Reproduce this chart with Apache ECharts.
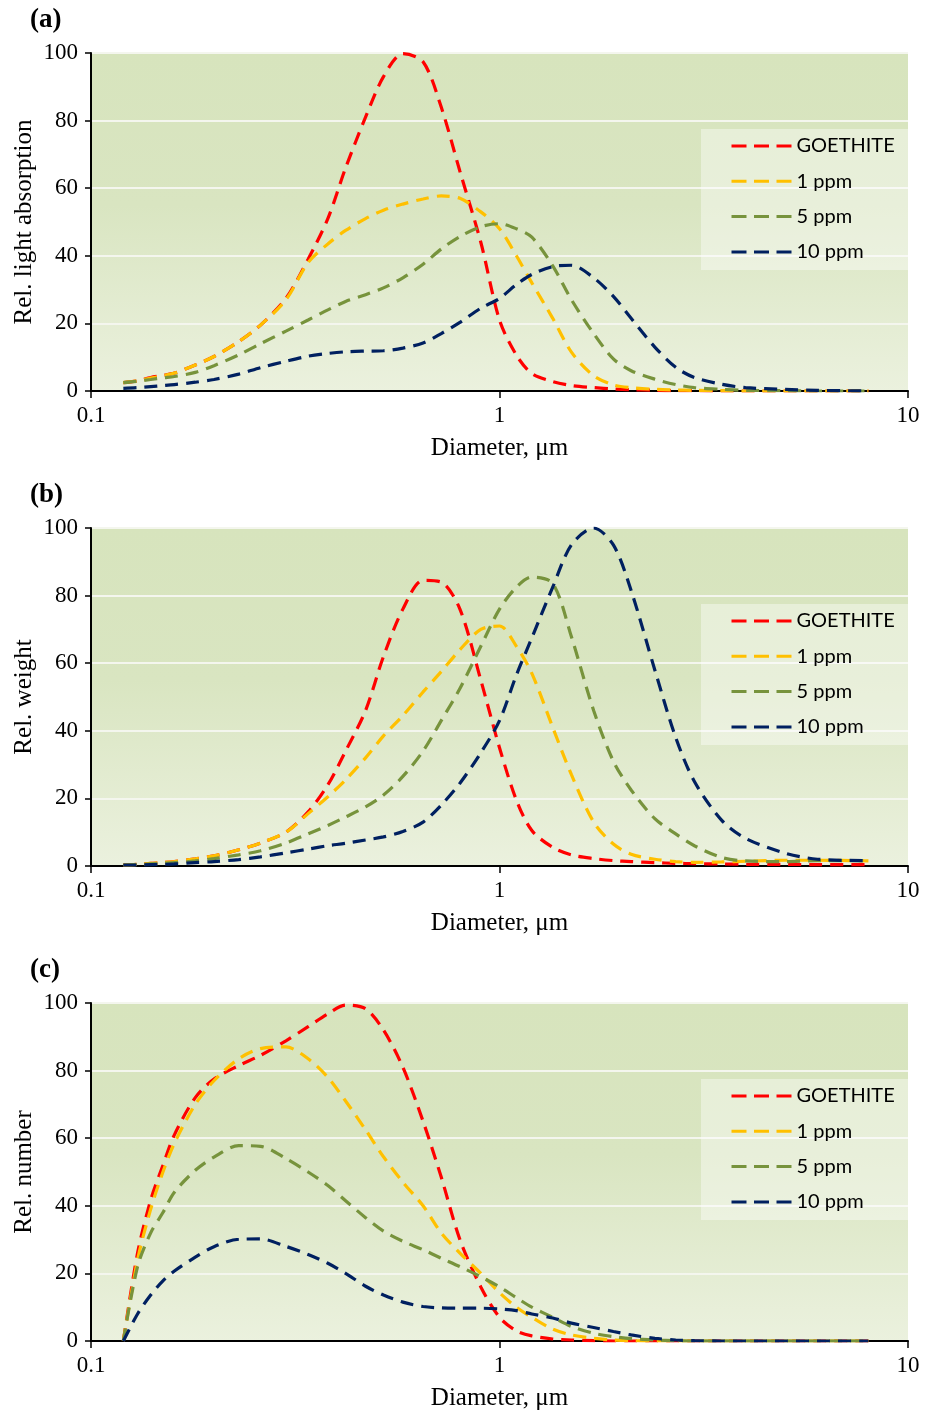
<!DOCTYPE html>
<html>
<head>
<meta charset="utf-8">
<script src="https://cdn.jsdelivr.net/npm/echarts@6/dist/echarts.min.js"></script>
<style>
  body { margin: 0; background: #fff; }
  #main { width: 933px; height: 1416px; }
</style>
</head>
<body>
<div id="main"></div>
<script>
// 粒径 (µm), shared by all three panels
var diameters = [0.12, 0.13, 0.14, 0.15, 0.16, 0.18, 0.2, 0.23, 0.26, 0.3, 0.34, 0.38, 0.42, 0.47, 0.52, 0.58, 0.65, 0.72, 0.8, 0.9,
                 1.0, 1.1, 1.2, 1.35, 1.5, 1.7, 1.9, 2.1, 2.4, 2.7, 3.0, 3.5, 4.0, 5.0, 6.0, 8.0];
var seriesNames = ['GOETHITE', '1 ppm', '5 ppm', '10 ppm'];
var panelLabels = ['(a)', '(b)', '(c)'];
var yTitles = ['Rel. light absorption', 'Rel. weight', 'Rel. number'];
var xTitle = 'Diameter, μm';

// (a) light absorption
var absGoethite = [2.5, 3, 4, 4.6, 5.3, 7.7, 10.2, 14.6, 19.5, 27.4, 39, 51, 66, 81, 93, 99.8, 97.4, 84, 65, 44,
                   21, 10.6, 5.2, 2.8, 1.6, 1.0, 0.6, 0.4, 0.2, 0.1, 0.1, 0, 0, 0, 0, 0];
var abs1ppm = [2.5, 3, 3.8, 4.5, 5.3, 7.7, 10.2, 14.6, 19.5, 27, 38, 43.5, 47.5, 51, 53.5, 55.3, 56.8, 57.7, 57, 53,
               48, 40, 32, 21.5, 11.5, 4.5, 1.8, 1.0, 0.5, 0.3, 0.2, 0.1, 0, 0, 0, 0];
var abs5ppm = [2.5, 2.9, 3.4, 3.9, 4.3, 5.5, 7.5, 10.7, 14, 17.7, 21, 24, 26.5, 28.5, 30.5, 33.5, 37.5, 42, 45.7, 48.6,
               49.5, 48, 45.5, 37, 27, 17, 9.5, 6, 3.5, 1.9, 1.0, 0.5, 0.2, 0.1, 0, 0];
var abs10ppm = [0.8, 1.0, 1.3, 1.6, 1.9, 2.6, 3.4, 5, 6.9, 8.8, 10.3, 11.1, 11.6, 11.8, 11.9, 12.7, 14.2, 17, 20.3, 24.5,
                27.4, 31.5, 34.5, 36.8, 37.2, 33.5, 28, 21.5, 13, 7, 4, 2.0, 1.0, 0.5, 0.2, 0];

// (b) weight
var wtGoethite = [0.3, 0.5, 0.8, 1.0, 1.3, 2.1, 3, 4.8, 6.8, 10, 16, 24, 34, 46, 62, 76, 84.5, 84, 76, 55,
                  35, 19.5, 10.5, 5.5, 3.3, 2.2, 1.6, 1.3, 1.0, 0.8, 0.7, 0.6, 0.5, 0.5, 0.4, 0.4];
var wt1ppm = [0.3, 0.5, 0.8, 1.0, 1.3, 2.1, 3, 4.8, 6.8, 10, 15.5, 20.5, 25.5, 32, 38.5, 44.5, 51.5, 57.5, 64, 70,
              71, 65, 57, 41, 27, 13, 6.5, 3.5, 2, 1.3, 1.1, 1.2, 1.4, 1.7, 1.7, 1.5];
var wt5ppm = [0.3, 0.4, 0.6, 0.8, 1.0, 1.5, 2.2, 3.3, 4.5, 6.8, 9.5, 12, 14.5, 17.5, 21, 26.5, 34, 43, 52.5, 65,
              76, 82.5, 85.5, 83.6, 67.8, 46, 31, 22.5, 14, 9.5, 6, 2.5, 1.5, 1.3, 1.6, 1.6];
var wt10ppm = [0.3, 0.3, 0.4, 0.5, 0.6, 1.0, 1.3, 1.9, 2.7, 3.9, 5.0, 6.0, 6.7, 7.7, 8.6, 10.2, 13, 18, 24.5, 33.5,
               43, 56.5, 67.5, 82.5, 95, 100, 95, 81.5, 58, 38, 25, 13.5, 8.2, 3.8, 2.0, 1.6];

// (c) number
var numGoethite = [0, 26, 41.7, 52, 61, 72, 77.5, 81.5, 84.5, 88.8, 93, 96.8, 99.4, 98.3, 92, 81, 65, 48.5, 30, 16,
                   7, 3, 1.5, 0.6, 0.3, 0.1, 0, 0, 0, 0, 0, 0, 0, 0, 0, 0];
var num1ppm = [0, 24, 39, 50, 58.5, 70, 77, 83.5, 86.5, 87, 83.5, 78, 71, 62.5, 54.5, 47, 40, 32, 26, 20,
               14.3, 10, 7, 3.5, 1.8, 0.8, 0.3, 0.1, 0, 0, 0, 0, 0, 0, 0, 0];
var num5ppm = [0, 22, 32, 38, 44, 50.5, 54.4, 57.8, 57.6, 54, 50, 46, 41.5, 36.5, 32.5, 29.5, 27, 24.5, 22, 19,
               16, 12.8, 10, 7, 4.3, 2.3, 1.3, 0.7, 0.3, 0.1, 0, 0, 0, 0, 0, 0];
var num10ppm = [0, 8, 13.6, 17.8, 20.7, 24.8, 27.9, 30.1, 30.2, 28, 25.6, 23, 20, 16.2, 13.6, 11.5, 10.2, 9.8, 9.7, 9.7,
                9.5, 9, 8, 6.8, 5.3, 4, 2.8, 1.8, 0.8, 0.3, 0.1, 0, 0, 0, 0, 0];

var panels = [
  [absGoethite, abs1ppm, abs5ppm, abs10ppm],
  [wtGoethite, wt1ppm, wt5ppm, wt10ppm],
  [numGoethite, num1ppm, num5ppm, num10ppm]
];
var colors = ['#ff0000', '#ffc000', '#77933c', '#002060'];
var gridTops = [53, 528, 1003];

var myChart = echarts.init(document.getElementById('main'));

var grids = [], xAxes = [], yAxes = [], titles = [], legends = [], series = [];
for (var p = 0; p < 3; p++) {
  grids.push({
    left: 91, top: gridTops[p], width: 817, height: 338,
    show: true, borderWidth: 0,
    backgroundColor: {
      type: 'linear', x: 0, y: 0, x2: 0, y2: 1,
      colorStops: [
        { offset: 0, color: '#d7e4bd' },
        { offset: 0.45, color: '#d9e5c1' },
        { offset: 1, color: '#ebf1de' }
      ]
    }
  });
  xAxes.push({
    type: 'log', logBase: 10, min: 0.1, max: 10, gridIndex: p,
    name: xTitle, nameLocation: 'middle', nameGap: 45, nameMoveOverlap: false,
    nameTextStyle: { fontFamily: 'Liberation Serif', fontSize: 25, color: '#000' },
    axisLine: { lineStyle: { color: '#000', width: 2 } },
    axisTick: { show: true, length: 7, lineStyle: { color: '#000', width: 1.5 } },
    minorTick: { show: false },
    splitLine: { show: false },
    axisLabel: { fontFamily: 'Liberation Serif', fontSize: 23, color: '#000', margin: 13 }
  });
  yAxes.push({
    type: 'value', min: 0, max: 100, interval: 20, gridIndex: p,
    name: yTitles[p], nameLocation: 'middle', nameGap: 54, nameRotate: 90, nameMoveOverlap: false,
    nameTextStyle: { fontFamily: 'Liberation Serif', fontSize: 25, color: '#000' },
    axisLine: { show: true, lineStyle: { color: '#000', width: 2 } },
    axisTick: { show: true, length: 6, lineStyle: { color: '#000', width: 1.5 } },
    splitLine: { show: true, lineStyle: { color: '#f4f6ee', width: 2 } },
    axisLabel: { fontFamily: 'Liberation Serif', fontSize: 23, color: '#000', margin: 13 }
  });
  titles.push({
    text: panelLabels[p], left: 30, top: gridTops[p] - 46, padding: 0,
    textStyle: { fontFamily: 'Liberation Serif', fontWeight: 'bold', fontSize: 27, color: '#000' }
  });
  legends.push({
    data: seriesNames, orient: 'vertical',
    left: 701, top: gridTops[p] + 76,
    padding: [7, 18, 8, 29],
    itemWidth: 60, itemHeight: 14, itemGap: 15.3,
    backgroundColor: 'rgba(255,255,255,0.4)',
    selectedMode: false,
    itemStyle: { opacity: 0 },
    lineStyle: { width: 3, type: [15, 7.5] },
    textStyle: { fontFamily: 'Lato', fontSize: 20, color: '#000' }
  });
  for (var s = 0; s < 4; s++) {
    var vals = panels[p][s];
    series.push({
      name: seriesNames[s], type: 'line',
      xAxisIndex: p, yAxisIndex: p,
      showSymbol: false, symbol: 'none',
      smooth: 0.3,
      color: colors[s],
      lineStyle: { color: colors[s], width: 3.2, type: [13, 8] },
      data: diameters.map(function (d, i) { return [d, vals[i]]; })
    });
  }
}

myChart.setOption({
  animation: false,
  title: titles,
  legend: legends,
  grid: grids,
  xAxis: xAxes,
  yAxis: yAxes,
  series: series
});
</script>
</body>
</html>
